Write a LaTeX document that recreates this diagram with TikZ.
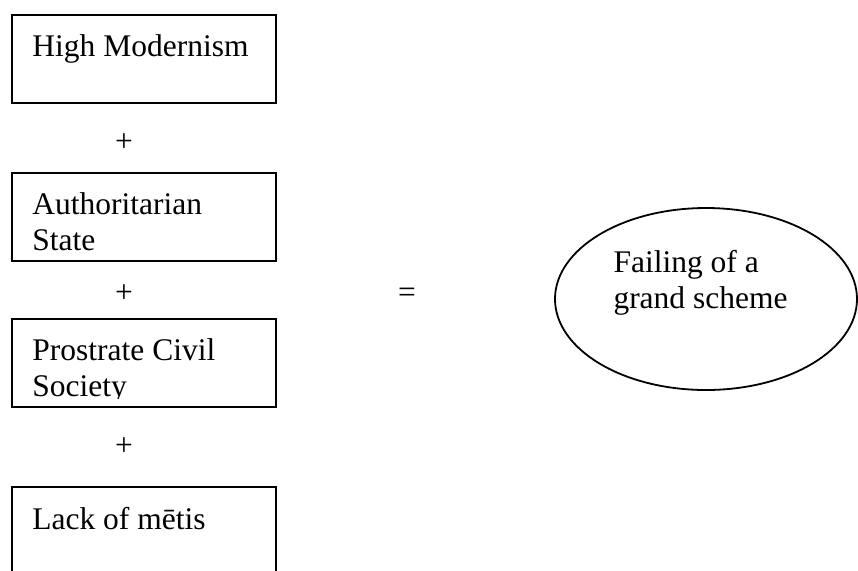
\documentclass[tikz,border=0pt]{standalone}
\usepackage{fontspec}
\setmainfont{Liberation Serif}
\usetikzlibrary{positioning,shapes.geometric}

\begin{document}
\begin{tikzpicture}[
  x=0.5pt, y=-0.5pt,
  font=\fontsize{15.75}{18}\selectfont,
  box/.style={draw, line width=1pt, minimum width=132pt, minimum height=44pt, inner sep=0pt},
  txt/.style={inner sep=0pt, align=left, anchor=north west},
  op/.style={inner sep=0pt, anchor=base},
  goal/.style={draw, ellipse, line width=0.9pt, minimum width=151pt, minimum height=91pt, inner sep=0pt}
]
  \useasboundingbox (0,0) rectangle (858,570);
  % the four ingredients
  \node[box] (hm) at (144,59) {};
  \node[box] (auth) at (144,217) {};
  \node[box] (pcs) at (144,363) {};
  \node[box] (metis) at (144,531) {};
  \node[txt, below right=10pt and 10.5pt of hm.north west] (hmtxt) {High Modernism};
  \node[txt, below right=10pt and 10.5pt of auth.north west] (authtxt) {Authoritarian\\State};
  \begin{scope}
    \clip (pcs.north west) rectangle ([yshift=5pt]pcs.south east);
    \node[txt, below right=10pt and 10.5pt of pcs.north west] (pcstxt) {Prostrate Civil\\Society};
  \end{scope}
  \node[txt, below right=10.5pt and 10.5pt of metis.north west] (metistxt) {Lack of mētis};
  \node[op] (plus1) at (124,151) {+};
  \node[op] (plus2) at (124,302) {+};
  \node[op] (plus3) at (124,455) {+};
  % result
  \node[op] (eq) at (407,302) {=};
  \node[goal] (fail) at (706,299) {};
  \node[txt] (failtxt) at ([xshift=29.5pt, yshift=24.5pt]fail.west) {Failing of a\\grand scheme};
\end{tikzpicture}
\end{document}
